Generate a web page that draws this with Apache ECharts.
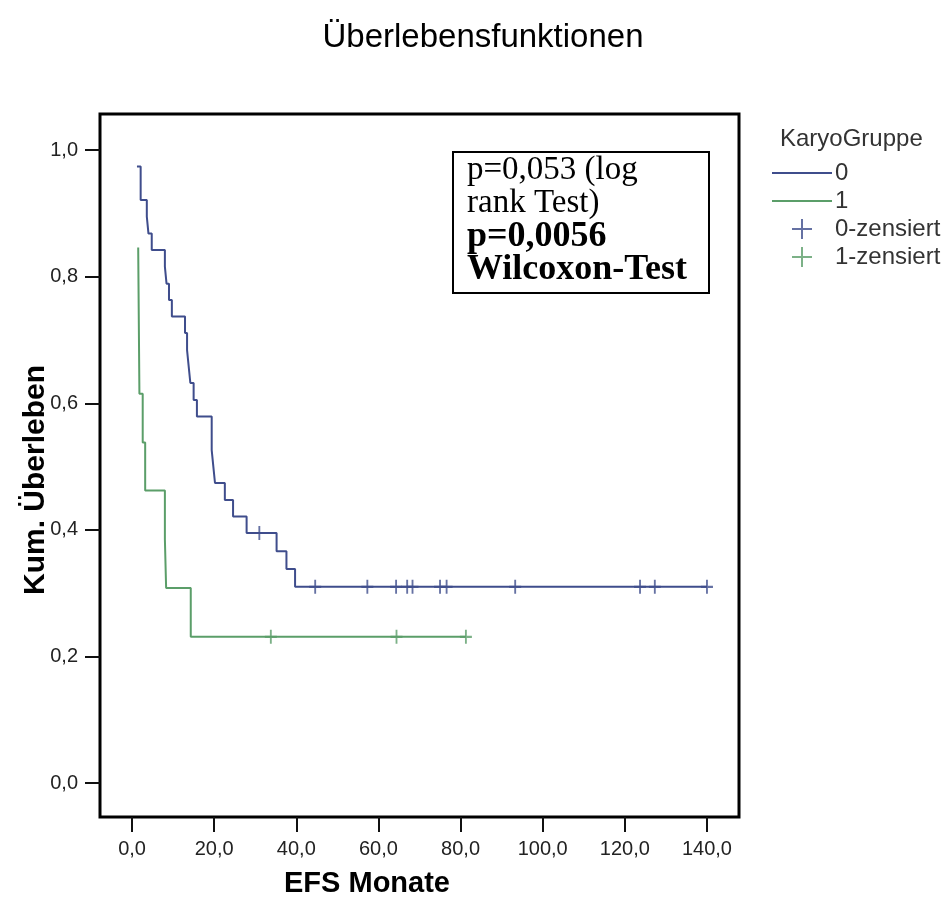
<!DOCTYPE html>
<html>
<head>
<meta charset="utf-8">
<script src="https://cdn.jsdelivr.net/npm/echarts@6/dist/echarts.min.js"></script>
<style>
  html, body { margin: 0; padding: 0; background: #fff; }
  #chart { width: 944px; height: 901px; }
</style>
</head>
<body>
<div id="chart"></div>
<script>
// Kaplan-Meier steps: [EFS Monate, Kum. Ueberleben] after each event
const group0Steps = [
  [1.2, 0.974], [2.1, 0.921], [3.6, 0.895], [4.0, 0.868], [4.8, 0.842],
  [8.0, 0.816], [8.4, 0.789], [9.0, 0.763], [9.7, 0.737],
  [12.9, 0.711], [13.4, 0.684], [13.8, 0.658], [14.2, 0.632], [15.0, 0.605], [15.8, 0.579],
  [19.4, 0.526], [19.8, 0.5], [20.2, 0.474], [22.6, 0.447], [24.6, 0.421], [27.9, 0.395],
  [35.2, 0.366], [37.6, 0.338], [39.7, 0.31], [140.0, 0.31]
];
const group1Steps = [
  [1.5, 0.846], [1.8, 0.615], [2.6, 0.538], [3.2, 0.462],
  [8.0, 0.385], [8.3, 0.308], [14.3, 0.231], [81.3, 0.231]
];
const group0Censored = [
  [31.0, 0.395], [44.6, 0.31], [57.3, 0.31], [64.3, 0.31], [67.0, 0.31], [68.3, 0.31],
  [75.0, 0.31], [76.6, 0.31], [93.3, 0.31], [123.7, 0.31], [127.3, 0.31], [140.0, 0.31]
];
const group1Censored = [[33.8, 0.231], [64.4, 0.231], [81.3, 0.231]];

const xTicks = [0, 20, 40, 60, 80, 100, 120, 140];
const yTicks = [0, 0.2, 0.4, 0.6, 0.8, 1.0];

const blue = "#3f4d8c";
const green = "#5b9e69";
const plus = "path://M0,10L20,10M10,0L10,20";
const bar = "path://M0,0H60V2H0Z";
const fmt = (v) => v.toFixed(1).replace(".", ",");

const chart = echarts.init(document.getElementById("chart"));
chart.setOption({
  animation: false,
  backgroundColor: "#fff",
  textStyle: { fontFamily: "Liberation Sans, Arial, sans-serif" },
  title: [
    {
      text: "Überlebensfunktionen",
      left: 478,
      top: 16,
      textAlign: "center",
      textStyle: { fontSize: 33, fontWeight: "normal", color: "#000" },
    },
    {
      text: "EFS Monate",
      left: 362,
      top: 864,
      textAlign: "center",
      textStyle: { fontSize: 29, fontWeight: "bold", color: "#000" },
    },
    {
      text: "KaryoGruppe",
      left: 775,
      top: 122,
      textStyle: { fontSize: 24, fontWeight: "normal", color: "#333" },
    },
  ],
  legend: {
    orient: "vertical",
    left: 767,
    top: 156,
    itemWidth: 60,
    itemHeight: 20,
    itemGap: 4,
    textStyle: { fontSize: 24, color: "#333", padding: [0, 0, 0, -2] },
    data: [
      { name: "0", icon: bar },
      { name: "1", icon: bar },
      "0-zensiert",
      "1-zensiert",
    ],
  },
  grid: {
    left: 100,
    right: 205,
    top: 114,
    bottom: 84,
    show: true,
    borderColor: "#000",
    borderWidth: 3,
    backgroundColor: "#fff",
  },
  xAxis: {
    type: "value",
    min: -7.8,
    max: 147.8,
    axisLine: { show: false, onZero: false },
    splitLine: { show: false },
    axisTick: { show: true, length: 15, customValues: xTicks, lineStyle: { color: "#111", width: 2 } },
    axisLabel: { customValues: xTicks, margin: 22, fontSize: 20, color: "#222", formatter: fmt },
  },
  yAxis: {
    type: "value",
    min: -0.0537,
    max: 1.057,
    axisLine: { show: false, onZero: false },
    splitLine: { show: false },
    axisTick: { show: true, length: 15, customValues: yTicks, lineStyle: { color: "#111", width: 2 } },
    axisLabel: { customValues: yTicks, margin: 22, fontSize: 20, color: "#222", formatter: fmt },
  },
  series: [
    {
      name: "0",
      type: "line",
      step: "end",
      symbol: "none",
      data: group0Steps,
      lineStyle: { color: blue, width: 2 },
      itemStyle: { color: blue },
    },
    {
      name: "1",
      type: "line",
      step: "end",
      symbol: "none",
      data: group1Steps,
      lineStyle: { color: green, width: 2 },
      itemStyle: { color: green },
    },
    {
      name: "0-zensiert",
      type: "scatter",
      symbol: plus,
      symbolSize: [12, 14],
      data: group0Censored,
      itemStyle: { color: "transparent", borderColor: blue, borderWidth: 2 },
    },
    {
      name: "1-zensiert",
      type: "scatter",
      symbol: plus,
      symbolSize: [12, 14],
      data: group1Censored,
      itemStyle: { color: "transparent", borderColor: green, borderWidth: 2 },
    },
  ],
  graphic: [
    {
      type: "text",
      x: 36,
      y: 480,
      rotation: Math.PI / 2,
      style: {
        text: "Kum. Überleben",
        fontFamily: "Liberation Sans, Arial, sans-serif",
        fontSize: 30,
        fontWeight: "bold",
        fill: "#000",
        align: "center",
        verticalAlign: "middle",
      },
    },
    {
      type: "group",
      left: 452,
      top: 151,
      children: [
        {
          type: "rect",
          shape: { x: 0, y: 0, width: 256, height: 141 },
          style: { fill: "#fff", stroke: "#000", lineWidth: 2 },
        },
        {
          type: "text",
          x: 14,
          y: 2,
          style: {
            text: "{n|p=0,053 (log}\n{n|rank Test)}\n{b|p=0,0056}\n{b|Wilcoxon-Test}",
            rich: {
              n: { fontFamily: "Liberation Serif, Times New Roman, serif", fontSize: 33, lineHeight: 33, fill: "#000" },
              b: { fontFamily: "Liberation Serif, Times New Roman, serif", fontSize: 36, lineHeight: 33, fontWeight: "bold", fill: "#000" },
            },
          },
        },
      ],
    },
  ],
});
</script>
</body>
</html>
